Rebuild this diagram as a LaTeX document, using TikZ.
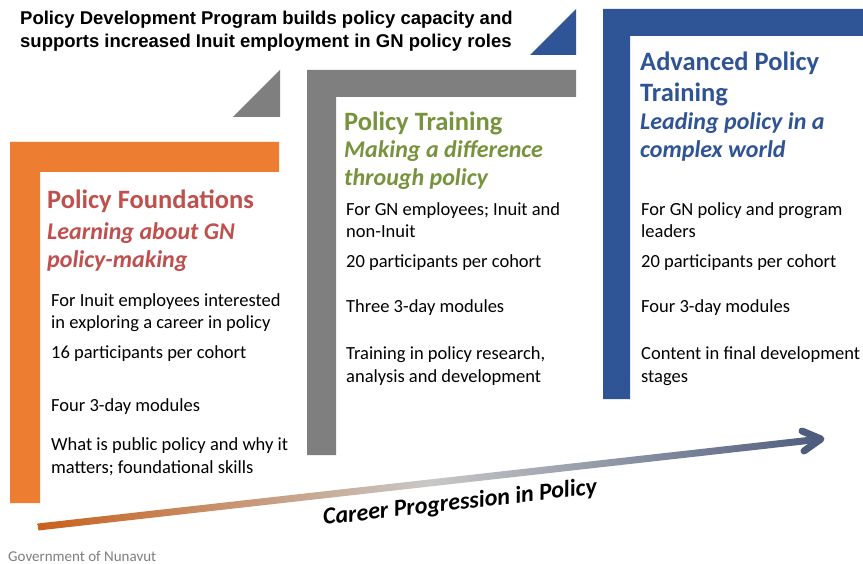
\documentclass[tikz,border=0pt]{standalone}
\usepackage{fontspec}
\setmainfont{Carlito}
\newfontfamily\arialf{Liberation Sans}
\usetikzlibrary{calc}
\definecolor{cOrange}{HTML}{ED7D31}
\definecolor{cGray}{HTML}{7F7F7F}
\definecolor{cBlue}{HTML}{2F5597}
\definecolor{hRed}{HTML}{C0504D}
\definecolor{hGreen}{HTML}{77933C}
\definecolor{hBlue}{HTML}{2F5496}
\definecolor{aStart}{HTML}{C8611C}
\definecolor{aMid}{HTML}{C8C8C8}
\definecolor{aEnd}{HTML}{4E5D7E}
\tikzset{
  body/.style={anchor=base west, align=left, inner sep=0pt, font=\fontsize{18.5}{22.5}\selectfont, text=black},
  head/.style={anchor=base west, align=left, inner sep=0pt, font=\fontsize{26.5}{31}\selectfont\bfseries},
  subhead/.style={anchor=base west, align=left, inner sep=0pt, font=\fontsize{24}{28}\selectfont\bfseries\itshape},
}
\begin{document}
\begin{tikzpicture}[x=1pt,y=-1pt]
\useasboundingbox[fill=white] (0,0) rectangle (863,564);
% brackets
\fill[cOrange] (10,142) -- (279,142) -- (279,172) -- (40,172) -- (40,503) -- (10,503) -- cycle;
\fill[cGray] (307,70) -- (576,70) -- (576,97) -- (336,97) -- (336,455) -- (307,455) -- cycle;
\fill[cBlue] (603,9) -- (863,9) -- (863,36) -- (630,36) -- (630,399) -- (603,399) -- cycle;
% corner triangles
\fill[cGray] (233,117) -- (280,70) -- (280,117) -- cycle;
\fill[cBlue] (530,55) -- (576,9) -- (576,55) -- cycle;
% title (base = last line)
\node[anchor=base west, align=left, inner sep=0pt, font=\arialf\bfseries\fontsize{18.5}{23}\selectfont] (title) at (20,48)
  {Policy Development Program builds policy capacity and\\supports increased Inuit employment in GN policy roles};
% orange step
\node[head, text=hRed] (h1) at (47,209) {Policy Foundations};
\node[subhead, text=hRed] (s1) at (47,268) {Learning about GN\\policy-making};
\node[body] (o1) at (51,329) {For Inuit employees interested\\in exploring a career in policy};
\node[body] (o2) at (51,359) {16 participants per cohort};
\node[body] (o3) at (51,411) {Four 3-day modules};
\node[body] (o4) at (51,473) {What is public policy and why it\\matters; foundational skills};
% gray step
\node[head, text=hGreen] (h2) at (344,131) {Policy Training};
\node[subhead, text=hGreen] (s2) at (344,186) {Making a difference\\through policy};
\node[body] (g1) at (346,238) {For GN employees; Inuit and\\non-Inuit};
\node[body] (g2) at (346,268) {20 participants per cohort};
\node[body] (g3) at (346,313) {Three 3-day modules};
\node[body] (g4) at (346,382) {Training in policy research,\\analysis and development};
% blue step
\node[head, text=hBlue] (h3) at (640,102) {Advanced Policy\\Training};
\node[subhead, text=hBlue] (s3) at (640,158) {Leading policy in a\\complex world};
\node[body] (b1) at (641,238) {For GN policy and program\\leaders};
\node[body] (b2) at (641,268) {20 participants per cohort};
\node[body] (b3) at (641,313) {Four 3-day modules};
\node[body] (b4) at (641,382) {Content in final development\\stages};
% progression arrow
\coordinate (aS) at (38,527);
\coordinate (aT) at (821,439);
\coordinate (aU) at (802,431);
\coordinate (aL) at (804,451);
\shade[left color=aStart, right color=aEnd, middle color=aMid]
  ($(aS)!3.5pt!90:(aT)$) -- ($(aT)!3.5pt!-90:(aS)$) -- ($(aT)!3.5pt!90:(aS)$) -- ($(aS)!3.5pt!-90:(aT)$) -- cycle;
\draw[aEnd, line width=7pt, line cap=round, line join=round] (aU) -- (aT) -- (aL);
\node[rotate=6.5, inner sep=0pt, font=\fontsize{24}{28}\selectfont\bfseries\itshape] (career) at (460,503) {Career Progression in Policy};
\node[anchor=base west, inner sep=0pt, text=cGray, font=\fontsize{15}{17}\selectfont] (gov) at (8,561) {Government of Nunavut};
\end{tikzpicture}
\end{document}
